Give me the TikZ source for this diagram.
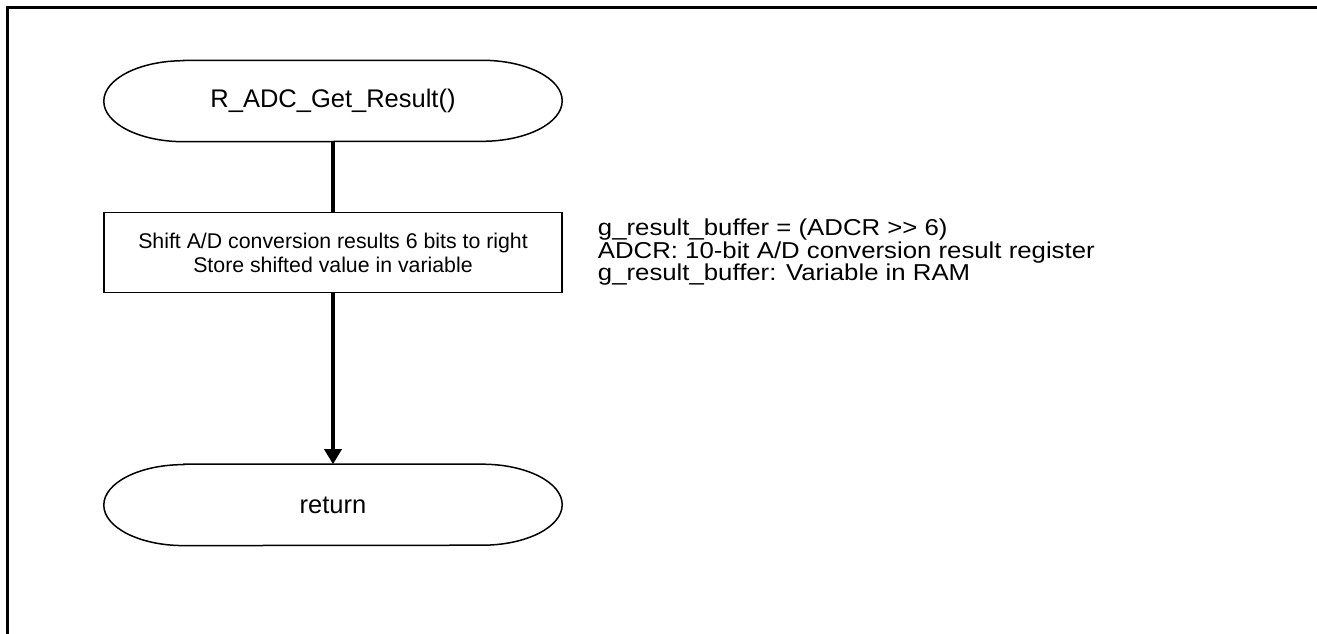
\documentclass[tikz,border=0pt]{standalone}
\usepackage{fontspec}
\setmainfont{Liberation Sans}
\newfontfamily\notefont[FakeStretch=1.12]{Liberation Sans}
\usetikzlibrary{positioning, arrows.meta}

\tikzset{
  terminal/.style={rectangle, inner sep=0pt, minimum width=458pt, minimum height=81pt, font=\fontsize{25.5}{28}\selectfont},
  process/.style={draw, line width=1.5pt, rectangle, inner sep=0pt, minimum width=458pt, minimum height=80pt, align=center, font=\fontsize{21.3}{24}\selectfont},
  note/.style={inner sep=0pt, align=left, font=\notefont\fontsize{23}{22.5}\selectfont},
  flow/.style={line width=3.2pt},
}

\begin{document}
\begin{tikzpicture}[x=1pt, y=-1pt]
  \useasboundingbox (0,0) rectangle (1317,634);
  % frame
  \draw[line width=3pt] (1317,7.5) -- (7.5,7.5) -- (7.5,634);

  \node[terminal] (start) at (333,101) {R\_ADC\_Get\_Result()};
  \node[process] (task) [below=70pt of start] {Shift A/D conversion results 6 bits to right\\Store shifted value in variable};
  \node[terminal] (ret) [below=171pt of task] {return};

  \node[note] (info) [right=35pt of task] {g\_result\_buffer = (ADCR >{}> 6)\\ADCR: 10-bit A/D conversion result register\\g\_result\_buffer: Variable in RAM};

  % terminal outlines
  \foreach \n in {start, ret}
    \draw[line width=1.5pt] ([xshift=80pt]\n.north west) -- ([xshift=-80pt]\n.north east)
      arc[start angle=90, end angle=-90, x radius=80pt, y radius=40.5pt]
      -- ([xshift=80pt]\n.south west)
      arc[start angle=270, end angle=90, x radius=80pt, y radius=40.5pt] -- cycle;

  \path[flow]
    (start) edge (task)
    (task) edge[-{Triangle[width=17pt,length=15pt]}] (ret);

\end{tikzpicture}
\end{document}
